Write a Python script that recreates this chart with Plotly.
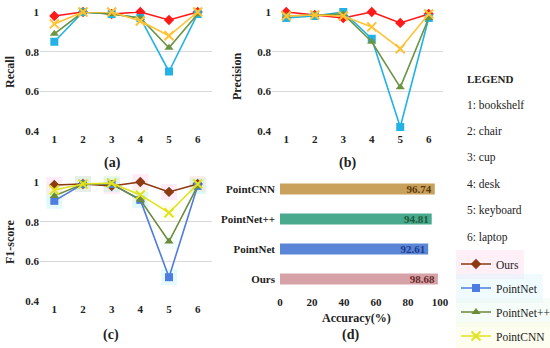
import plotly.graph_objects as go

W, H = 550, 348

categories = [1, 2, 3, 4, 5, 6]
category_names = ["1: bookshelf", "2: chair", "3: cup", "4: desk", "5: keyboard", "6: laptop"]
methods = ["Ours", "PointNet", "PointNet++", "PointCNN"]

recall = {
    "Ours":       [0.98, 1.00, 0.99, 1.00, 0.96, 1.00],
    "PointNet":   [0.85, 1.00, 0.99, 0.97, 0.70, 0.99],
    "PointNet++": [0.89, 1.00, 0.99, 0.97, 0.82, 0.99],
    "PointCNN":   [0.94, 1.00, 1.00, 0.955, 0.88, 1.00],
}
precision = {
    "Ours":       [1.00, 0.985, 0.97, 1.00, 0.945, 0.99],
    "PointNet":   [0.97, 0.98, 1.00, 0.865, 0.42, 0.97],
    "PointNet++": [0.98, 0.985, 0.99, 0.85, 0.62, 0.97],
    "PointCNN":   [0.98, 0.985, 0.98, 0.925, 0.815, 0.99],
}
f1 = {
    "Ours":       [0.985, 0.99, 0.98, 1.00, 0.95, 0.99],
    "PointNet":   [0.905, 0.99, 0.99, 0.91, 0.52, 0.98],
    "PointNet++": [0.93, 0.99, 0.99, 0.91, 0.70, 0.98],
    "PointCNN":   [0.96, 0.99, 0.995, 0.935, 0.845, 0.99],
}
acc_methods = ["Ours", "PointNet", "PointNet++", "PointCNN"]
accuracy = [98.68, 92.61, 94.81, 96.74]

# styles
symbols = {"Ours": "diamond", "PointNet": "square", "PointNet++": "triangle-up", "PointCNN": "x-thin-open"}
colors_ab = {"Ours": "#FF1A1A", "PointNet": "#22B2E6", "PointNet++": "#6B9443", "PointCNN": "#FFC233"}
colors_c = {"Ours": "#8B3A12", "PointNet": "#4F7CE0", "PointNet++": "#6B8A3A", "PointCNN": "#E2E21A"}
glow_c = {"Ours": "rgba(255,170,220,0.22)", "PointNet": "rgba(150,235,255,0.25)",
          "PointNet++": "rgba(200,245,225,0.2)", "PointCNN": "rgba(250,250,180,0.2)"}
bar_colors = ["#D6A2A8", "#5B86D8", "#48A98C", "#C9A15C"]
bar_text_colors = ["#6A2A2A", "#1E3A8A", "#1E5A3A", "#5A3A08"]

SERIF = "Liberation Serif"

def xd(a, b):
    return [a / W, b / W]

def yd(top, bottom):
    return [1 - bottom / H, 1 - top / H]

fig = go.Figure()

def add_panel(data, xa, ya, colors, legend_flag):
    for i, m in enumerate(methods):
        sym = symbols[m]
        msize = 8 if sym != "x-thin-open" else 9
        mk = dict(symbol=sym, size=msize, color=colors[m])
        if sym == "x-thin-open":
            mk["line"] = dict(width=2, color=colors[m])
        if legend_flag:
            kw = dict(showlegend=True, legend=("legend" if i == 0 else "legend%d" % (i + 1)))
        else:
            kw = dict(showlegend=False)
        fig.add_trace(go.Scatter(
            x=categories, y=data[m], mode="lines+markers", name=m,
            line=dict(color=colors[m], width=1.6), marker=mk,
            xaxis=xa, yaxis=ya, cliponaxis=False, **kw))

# soft glow behind panel (c) markers
for m in methods:
    fig.add_trace(go.Scatter(
        x=categories, y=f1[m], mode="markers", showlegend=False, hoverinfo="skip",
        marker=dict(symbol="square", size=16, color=glow_c[m]),
        xaxis="x3", yaxis="y3", cliponaxis=False))

add_panel(recall, "x", "y", colors_ab, False)
add_panel(precision, "x2", "y2", colors_ab, False)
add_panel(f1, "x3", "y3", colors_c, True)

fig.add_trace(go.Bar(
    x=accuracy, y=acc_methods, orientation="h", xaxis="x4", yaxis="y4",
    marker=dict(color=bar_colors, line=dict(width=0)),
    text=["%.2f" % v for v in accuracy], textposition="inside", insidetextanchor="end",
    constraintext="none",
    textfont=dict(family=SERIF, size=11, color=bar_text_colors, weight="bold"),
    showlegend=False, width=0.37))

tickfont = dict(family=SERIF, size=11, color="#222", weight="bold")
line_x = dict(range=[0.5, 6.5], tickvals=categories, showgrid=False, zeroline=False,
              showline=False, ticks="", tickfont=tickfont, fixedrange=True)
line_y = dict(range=[0.4, 1.0], tickvals=[0.4, 0.6, 0.8, 1.0], ticktext=["0.4", "0.6", "0.8", "1"],
              showgrid=True, gridcolor="#D9D9D9", gridwidth=1, zeroline=False, showline=False,
              ticks="", tickfont=tickfont, fixedrange=True)

fig.update_layout(
    width=W, height=H, margin=dict(l=0, r=0, t=0, b=0, autoexpand=False),
    paper_bgcolor="white", plot_bgcolor="white",
    xaxis=dict(domain=xd(40, 212), anchor="y", **line_x),
    yaxis=dict(domain=yd(12, 131), anchor="x", **line_y),
    xaxis2=dict(domain=xd(272, 443), anchor="y2", **line_x),
    yaxis2=dict(domain=yd(12, 131), anchor="x2", **line_y),
    xaxis3=dict(domain=xd(40, 212), anchor="y3", **line_x),
    yaxis3=dict(domain=yd(182, 301), anchor="x3", **line_y),
    xaxis4=dict(domain=xd(280, 440), anchor="y4", range=[0, 100], tickvals=[0, 20, 40, 60, 80, 100],
                showgrid=False, zeroline=False, showline=False, ticks="", tickfont=tickfont, fixedrange=True),
    yaxis4=dict(domain=yd(174, 294), anchor="x4", range=[-0.5, 3.5], showgrid=False, zeroline=False,
                showline=False, ticks="", tickfont=tickfont, ticklabelstandoff=4, fixedrange=True),
    font=dict(family=SERIF, color="#222"),
)

# one legend box per series (container coordinates so they never push the margins)
leg_y = [264, 288, 312, 336]
leg_bg = ["rgba(255,220,238,0.45)", "rgba(220,246,255,0.45)", "rgba(235,248,238,0.45)", "rgba(252,252,222,0.45)"]
for i, m in enumerate(methods):
    key = "legend" if i == 0 else "legend%d" % (i + 1)
    fig.update_layout(**{key: dict(x=456 / W, y=1 - leg_y[i] / H, xref="container", yref="container",
                                   xanchor="left", yanchor="middle",
                                   bgcolor=leg_bg[i], borderwidth=0, itemwidth=30,
                                   font=dict(family=SERIF, size=11.5, color="#222"))})

ann = []
def text(x, y, s, size=12, bold=False, angle=0, xanchor="center"):
    ann.append(dict(x=x / W, y=1 - y / H, xref="paper", yref="paper", text=s, showarrow=False,
                    textangle=angle, xanchor=xanchor, yanchor="middle",
                    font=dict(family=SERIF, size=size, color="#222", weight="bold" if bold else "normal")))

text(10, 72, "Recall", 12, True, -90)
text(237, 77, "Precision", 12, True, -90)
text(10, 242, "F1-score", 12, True, -90)
text(112, 163, "(a)", 14, True)
text(347, 163, "(b)", 14, True)
text(111, 335, "(c)", 14, True)
text(350, 335, "(d)", 14, True)
text(356, 318, "Accuracy(%)", 12, True)
text(465, 79, "LEGEND", 11, True, xanchor="left")
for i, s in enumerate(category_names):
    text(465, 105 + i * 26.4, s, 11.5, False, xanchor="left")
fig.update_layout(annotations=ann)

fig.write_html("out.html", config={"displayModeBar": False},
               post_script="document.body.style.margin='0';document.body.style.overflow='hidden';")
